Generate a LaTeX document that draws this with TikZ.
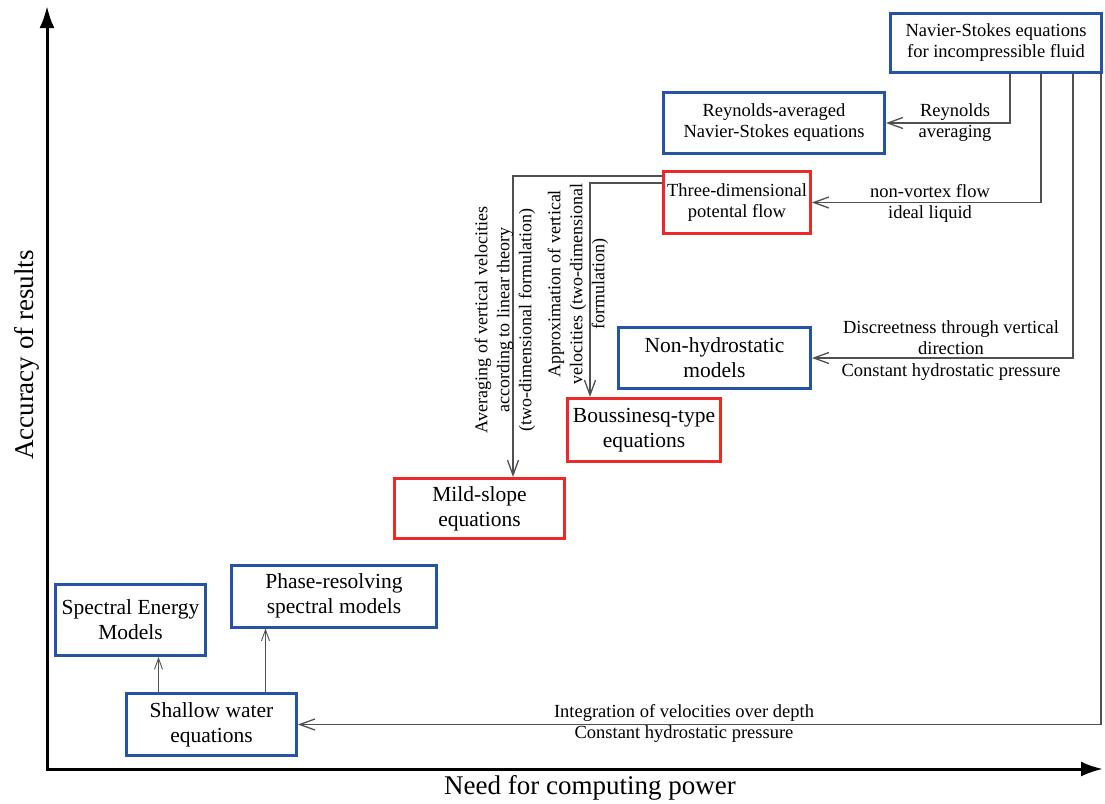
\documentclass[tikz,border=0pt]{standalone}
\usepackage{fontspec}
\setmainfont{Liberation Serif}
\usepackage{tikz}
\usetikzlibrary{arrows.meta}
\definecolor{boxblue}{RGB}{38,84,164}
\definecolor{boxred}{RGB}{236,40,40}
\definecolor{linkgray}{RGB}{80,80,80}

\begin{document}
\begin{tikzpicture}[x=1pt,y=-1pt,>={Straight Barb[length=15pt,width=11pt]},
                    semithick]
  \tikzstyle{box}=[rectangle,draw,line width=3pt,align=center,inner sep=0pt]
  \tikzstyle{bluebox}=[box,draw=boxblue]
  \tikzstyle{redbox}=[box,draw=boxred]
  \tikzstyle{small}=[font=\fontsize{18.5}{21}\selectfont]
  \tikzstyle{big}=[font=\fontsize{21.5}{25}\selectfont]
  \tikzstyle{link}=[draw=linkgray,line width=1.3pt]
  \tikzstyle{thinlink}=[draw=linkgray,line width=0.9pt,
    >={Straight Barb[length=11pt,width=8pt]}]
  \tikzstyle{lbl}=[small,align=center,inner sep=0pt]
  \tikzstyle{axis}=[line width=3pt,-{Latex[length=22pt,width=15pt]}]
  \useasboundingbox (0,0) rectangle (1105,803);
  % models
  \node[bluebox,small,minimum width=211,minimum height=59] (ns) at (996,43) [] {Navier-Stokes equations\\for incompressible fluid};
  \node[bluebox,small,minimum width=221,minimum height=61] (rans) at (774,123) [] {Reynolds-averaged\\Navier-Stokes equations};
  \node[redbox,small,minimum width=147,minimum height=62] (pot) at (737,202.5) [] {Three-dimensional\\potental flow};
  \node[bluebox,big,minimum width=192,minimum height=61] (nh) at (714.5,358) [] {Non-hydrostatic\\models};
  \node[redbox,big,minimum width=153,minimum height=63] (bq) at (644,430) [] {Boussinesq-type\\equations};
  \node[redbox,big,minimum width=170,minimum height=60] (ms) at (479.5,508.5) [] {Mild-slope\\equations};
  \node[bluebox,big,minimum width=205,minimum height=62] (prs) at (334,596) [] {Phase-resolving\\spectral models};
  \node[bluebox,big,minimum width=150,minimum height=71] (se) at (130.5,620) [] {Spectral Energy\\Models};
  \node[bluebox,big,minimum width=170,minimum height=62] (sw) at (211.5,724.5) [] {Shallow water\\equations};
  % axes
  \coordinate (o) at (47,769);
  \draw[axis] (o) -- (47,6);
  \draw[axis] (45.5,769) -- (1103,769);
  \node[font=\fontsize{27}{32}\selectfont,rotate=90] (ylab) at (27,355) {Accuracy of results};
  \node[font=\fontsize{27}{32}\selectfont] (xlab) at (590,788) {Need for computing power};
  % transitions
  \draw[link,->] (1010,0 |- ns.south) |- (rans.east);
  \draw[link,->] (1041,0 |- ns.south) |- (pot.east);
  \draw[link,->] (1073,0 |- ns.south) |- (nh.east);
  \draw[link,->] (1101,0 |- ns.south) |- (sw.east);
  \draw[link,->] ([yshift=26.5]pot.west) -| ([xshift=33.5]ms.north);
  \draw[link,->] ([yshift=19.5]pot.west) -| ([xshift=-54]bq.north);
  \draw[thinlink,->] (sw.north -| 158.5,0) -- (se.south -| 158.5,0);
  \draw[thinlink,->] (sw.north -| 265.5,0) -- (prs.south -| 265.5,0);
  % labels
  \node[lbl] (reyn) at (955,123) {Reynolds\\averaging};
  \node[lbl] (vort) at (930,203) {non-vortex flow\\ideal liquid};
  \node[lbl,anchor=south] (disc) at (951,355) {Discreetness through vertical\\direction};
  \node[lbl,anchor=north] (hyd) at (951,363) {Constant hydrostatic pressure};
  \node[lbl] (integ) at (684,723) {Integration of velocities over depth\\Constant hydrostatic pressure};
  \node[lbl,rotate=90,font=\fontsize{18}{22}\selectfont] (avg) at (505,320) {Averaging of vertical velocities\\according to linear theory\\(two-dimensional formulation)};
  \node[lbl,rotate=90,font=\fontsize{18}{22}\selectfont] (appr) at (578,284) {Approximation of vertical\\velocities (two-dimensional\\formulation)};
\end{tikzpicture}
\end{document}
